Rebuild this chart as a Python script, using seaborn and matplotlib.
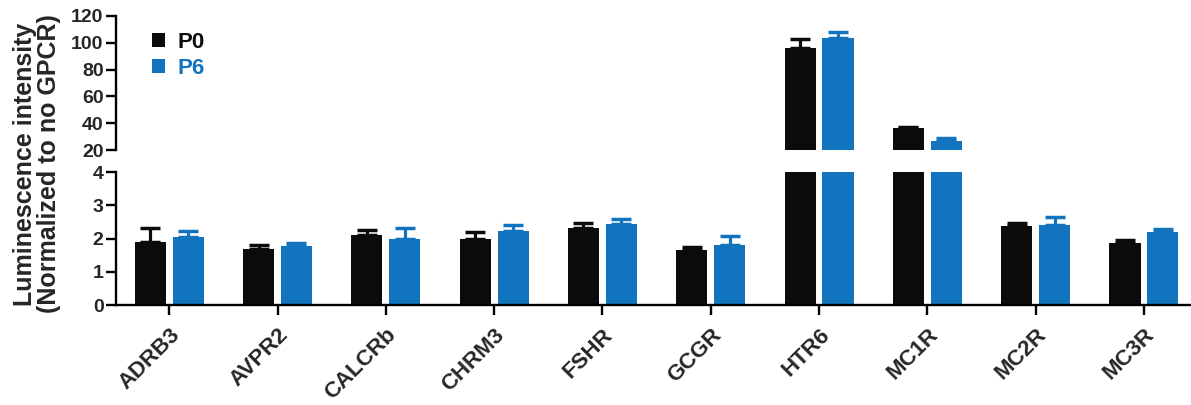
import numpy as np
import pandas as pd
import matplotlib
matplotlib.use("Agg")
import matplotlib.pyplot as plt
import seaborn as sns
from matplotlib.patches import Patch

categories = ["ADRB3", "AVPR2", "CALCRb", "CHRM3", "FSHR", "GCGR", "HTR6", "MC1R", "MC2R", "MC3R"]
series = ["P0", "P6"]
p0_mean = [1.88, 1.67, 2.12, 2.00, 2.31, 1.66, 96.1, 36.2, 2.37, 1.86]
p0_err = [0.45, 0.12, 0.14, 0.20, 0.17, 0.08, 6.7, 1.2, 0.11, 0.10]
p6_mean = [2.05, 1.77, 1.99, 2.22, 2.44, 1.79, 103.4, 26.5, 2.42, 2.21]
p6_err = [0.18, 0.09, 0.33, 0.19, 0.15, 0.28, 4.9, 2.5, 0.23, 0.08]
top_ticks = [20, 40, 60, 80, 100, 120]
bottom_ticks = [0, 1, 2, 3, 4]
ylabel = "Luminescence intensity\n(Normalized to no GPCR)"

colors = {"P0": "#0b0b0b", "P6": "#1273be"}

sns.set_style("ticks")
plt.rcParams["font.family"] = ["Liberation Sans", "DejaVu Sans"]
plt.rcParams["font.weight"] = "bold"

df = pd.DataFrame({
    "gene": categories * 2,
    "series": ["P0"] * len(categories) + ["P6"] * len(categories),
    "value": p0_mean + p6_mean,
})
errs = {"P0": p0_err, "P6": p6_err}
means = {"P0": p0_mean, "P6": p6_mean}

fig = plt.figure(figsize=(11.91, 4.05), dpi=100)
left = 0.0975
ax_top = fig.add_axes([left, 0.6296, 1 - left, 0.3309])
ax_bot = fig.add_axes([left, 0.2469, 1 - left, 0.3284])

lw = 1.7
for ax in (ax_top, ax_bot):
    sns.barplot(data=df, x="gene", y="value", hue="series", hue_order=series,
                palette=colors, width=0.7, gap=0.18, errorbar=None,
                saturation=1, legend=False, ax=ax, zorder=2, linewidth=0)
    for cont, s in zip(ax.containers, series):
        xs = [b.get_x() + b.get_width() / 2 for b in cont]
        e = np.array(errs[s])
        ax.errorbar(xs, means[s], yerr=[np.zeros_like(e), e], fmt="none",
                    ecolor=colors[s], elinewidth=2.3, capsize=7.5, capthick=2.5,
                    zorder=3)
    ax.set_xlim(-0.49, 9.434)
    ax.set_xlabel("")
    ax.set_ylabel("")
    for side in ("top", "right"):
        ax.spines[side].set_visible(False)
    for side in ("left", "bottom"):
        ax.spines[side].set_linewidth(lw)
        ax.spines[side].set_color("black")
    ax.tick_params(axis="both", width=lw, length=7, color="black",
                   labelsize=14, pad=2)
    ax.tick_params(axis="y", which="minor", direction="inout", length=13,
                   width=lw, color="black")

ax_top.set_ylim(20, 120)
ax_top.set_yticks(top_ticks)
ax_top.set_yticks([20], minor=True)
ax_top.spines["bottom"].set_visible(False)
ax_top.tick_params(axis="x", bottom=False, labelbottom=False)

ax_bot.set_ylim(0, 4)
ax_bot.set_yticks(bottom_ticks)
ax_bot.set_yticks([4], minor=True)
ax_bot.tick_params(axis="x", labelsize=16, pad=7)
for lab in ax_bot.get_xticklabels():
    lab.set_rotation(45)
    lab.set_ha("right")
    lab.set_rotation_mode("anchor")
    lab.set_fontweight("bold")
for lab in ax_bot.get_yticklabels() + ax_top.get_yticklabels():
    lab.set_fontweight("bold")

handles = [Patch(facecolor=colors[s], edgecolor="none") for s in series]
leg = ax_top.legend(handles, series, loc="upper left", bbox_to_anchor=(0.033, 0.88),
                    frameon=False, handlelength=0.6, handleheight=0.6,
                    handletextpad=0.55, labelspacing=0.2, borderpad=0, borderaxespad=0,
                    prop={"weight": "bold", "size": 16})
for t, s in zip(leg.get_texts(), series):
    t.set_color(colors[s])

fig.text(0.031, 0.595, ylabel, rotation=90, ha="center", va="center",
         fontsize=18, fontweight="bold", multialignment="center", linespacing=1.0)

fig.savefig("out.png", dpi=100)
